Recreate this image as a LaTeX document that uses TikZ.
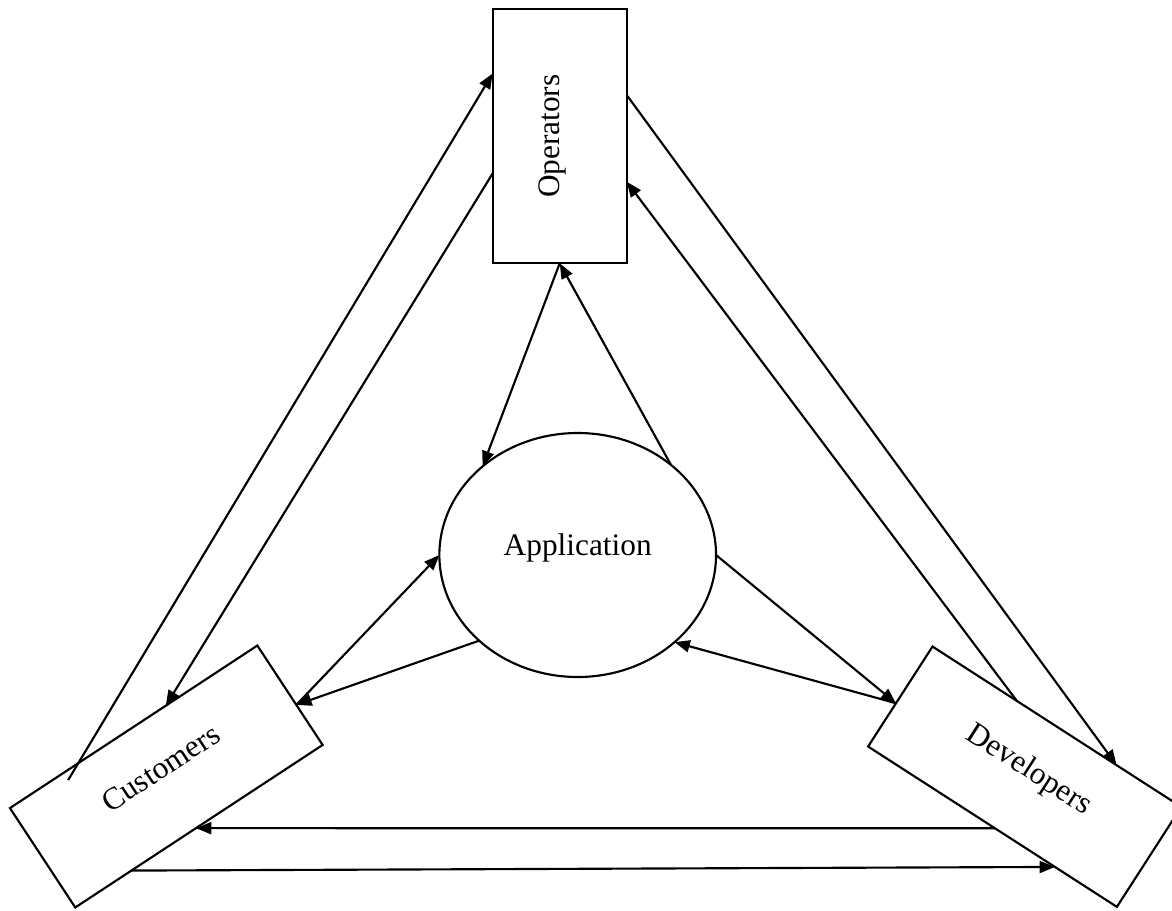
\documentclass[tikz,border=0pt]{standalone}
\usepackage{fontspec}
\setmainfont{Liberation Serif}
\usetikzlibrary{arrows.meta,shapes.geometric,calc}
\begin{document}
\begin{tikzpicture}[x=0.75pt,y=-0.75pt,
  line width=1.6pt,
  stakebox/.style={draw, rectangle, inner sep=0pt, outer sep=0pt,
    minimum width=222pt, minimum height=89.2pt},
  opsbox/.style={draw, rectangle, inner sep=0pt, outer sep=0pt,
    minimum width=100.5pt, minimum height=190.7pt},
  appshape/.style={draw, ellipse, inner sep=0pt, outer sep=0pt,
    minimum width=207.5pt, minimum height=183pt},
  lbl/.style={inner sep=0pt, anchor=base, font=\fontsize{23.5}{28}\selectfont},
  flow/.style={-{Triangle[length=11.5pt,width=9pt]}},
]
\useasboundingbox (0,0) rectangle (1172,911);
\clip (0,0) rectangle (1172,911);

% the four parties
\node[opsbox] (ops) at (559.7,136.2) {};
\node[appshape] (app) at (577.7,555) {};
\node[stakebox, rotate=33.3] (cust) at (166.3,776.5) {};
\node[stakebox, rotate=-32.8] (dev) at (1024.7,776.7) {};

% their names, baseline through each shape's centre
\node[lbl, rotate=90] (opstext) at (ops.center) {Operators};
\node[lbl] (apptext) at (app.center) {Application};
\node[lbl, rotate=33.3] (custtext) at (cust.center) {Customers};
\node[lbl, rotate=-32.8] (devtext) at (dev.center) {Developers};

% start of the customers -> operators line, just inside the box
\coordinate (custtail) at ($(cust.north west)!0.216!(cust.north east)
  + 0.072*(cust.south west) - 0.072*(cust.north west)$);

% operators <-> customers
\draw[flow] (custtail) -- ($(ops.north west)!0.253!(ops.south west)$);
\draw[flow] ($(ops.north west)!0.646!(ops.south west)$) --
  ($(cust.north west)!0.63!(cust.north east)$);

% operators <-> developers
\draw[flow] ($(ops.north east)!0.338!(ops.south east)$) --
  ($(dev.north west)!0.74!(dev.north east)$);
\draw[flow] ($(dev.north west)!0.339!(dev.north east)$) --
  ($(ops.north east)!0.679!(ops.south east)$);

% operators <-> application
\draw[flow] (ops.south) -- (app.137.9);
\draw[flow] (app.44.3) -- (ops.south);

% customers <-> application
\draw[flow] ($(cust.north east)!0.597!(cust.south east)$) -- (app.west);
\draw[flow] (app.221.4) -- ($(cust.north east)!0.597!(cust.south east)$);

% developers <-> application
\draw[flow] (app.east) -- ($(dev.south west)!0.433!(dev.north west)$);
\draw[flow] ($(dev.south west)!0.433!(dev.north west)$) -- (app.318.8);

% customers <-> developers
\draw[flow] ($(dev.south west)!0.51!(dev.south east)$) --
  ($(cust.south west)!0.488!(cust.south east)$);
\draw[flow] ($(cust.south west)!0.227!(cust.south east)$) --
  ($(dev.south west)!0.751!(dev.south east)$);
\end{tikzpicture}
\end{document}
